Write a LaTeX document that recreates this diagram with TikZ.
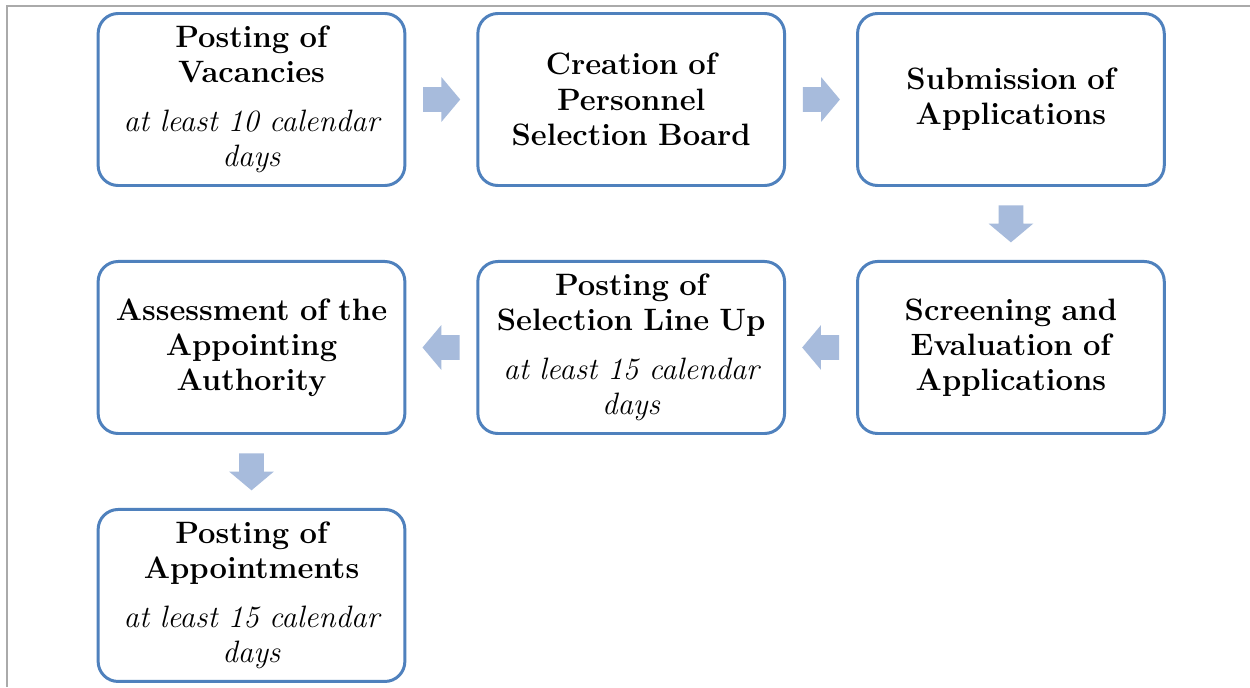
\documentclass[tikz,border=0pt]{standalone}
\usetikzlibrary{positioning, shapes.arrows, calc}
\definecolor{boxblue}{RGB}{79,129,189}
\definecolor{arrowblue}{RGB}{167,187,220}
\definecolor{framegray}{RGB}{170,170,170}

\begin{document}
\begin{tikzpicture}[
  stage/.style={draw=boxblue, line width=1.7pt, rounded corners=0.4cm, fill=white,
    minimum width=6.12cm, minimum height=3.44cm, align=center, text width=5.9cm,
    font=\fontsize{17.6}{20}\selectfont},
  flow/.style={single arrow, fill=arrowblue, draw=none, minimum height=0.74cm,
    inner xsep=0pt, inner ysep=0.24cm, single arrow head extend=0.2cm,
    single arrow tip angle=100, anchor=tail}
]
  \useasboundingbox[fill=white] (0,0) rectangle (25,-13.74);
  \draw[framegray, line width=1.4pt] (0.14,-13.74) -- (0.14,-0.12) -- (25,-0.12);

  % first row
  \node[stage] (post) at (5.03,-1.99)
    {\textbf{Posting of\\Vacancies}\\[8pt]\textit{at least 10 calendar\\days}};
  \node[stage, right=1.4cm of post] (board)
    {\textbf{Creation of\\Personnel\\Selection Board}};
  \node[stage, right=1.4cm of board] (submit)
    {\textbf{Submission of\\Applications}};

  % second row, right to left
  \node[stage, below=1.46cm of submit] (screen)
    {\textbf{Screening and\\Evaluation of\\Applications}};
  \node[stage, left=1.4cm of screen] (lineup)
    {\textbf{Posting of\\Selection Line Up}\\[8pt]\textit{at least 15 calendar\\days}};
  \node[stage, left=1.4cm of lineup] (assess)
    {\textbf{Assessment of the\\Appointing\\Authority}};

  % last one
  \node[stage, below=1.46cm of assess] (appoint)
    {\textbf{Posting of\\Appointments}\\[8pt]\textit{at least 15 calendar\\days}};

  \foreach \a/\b/\ang in {post/board/0, board/submit/0, submit/screen/-90,
                          screen/lineup/180, lineup/assess/180, assess/appoint/-90}
    \node[flow, rotate=\ang] at ($(\a)!0.5!(\b)!0.37cm!(\a)$) {};
\end{tikzpicture}
\end{document}
